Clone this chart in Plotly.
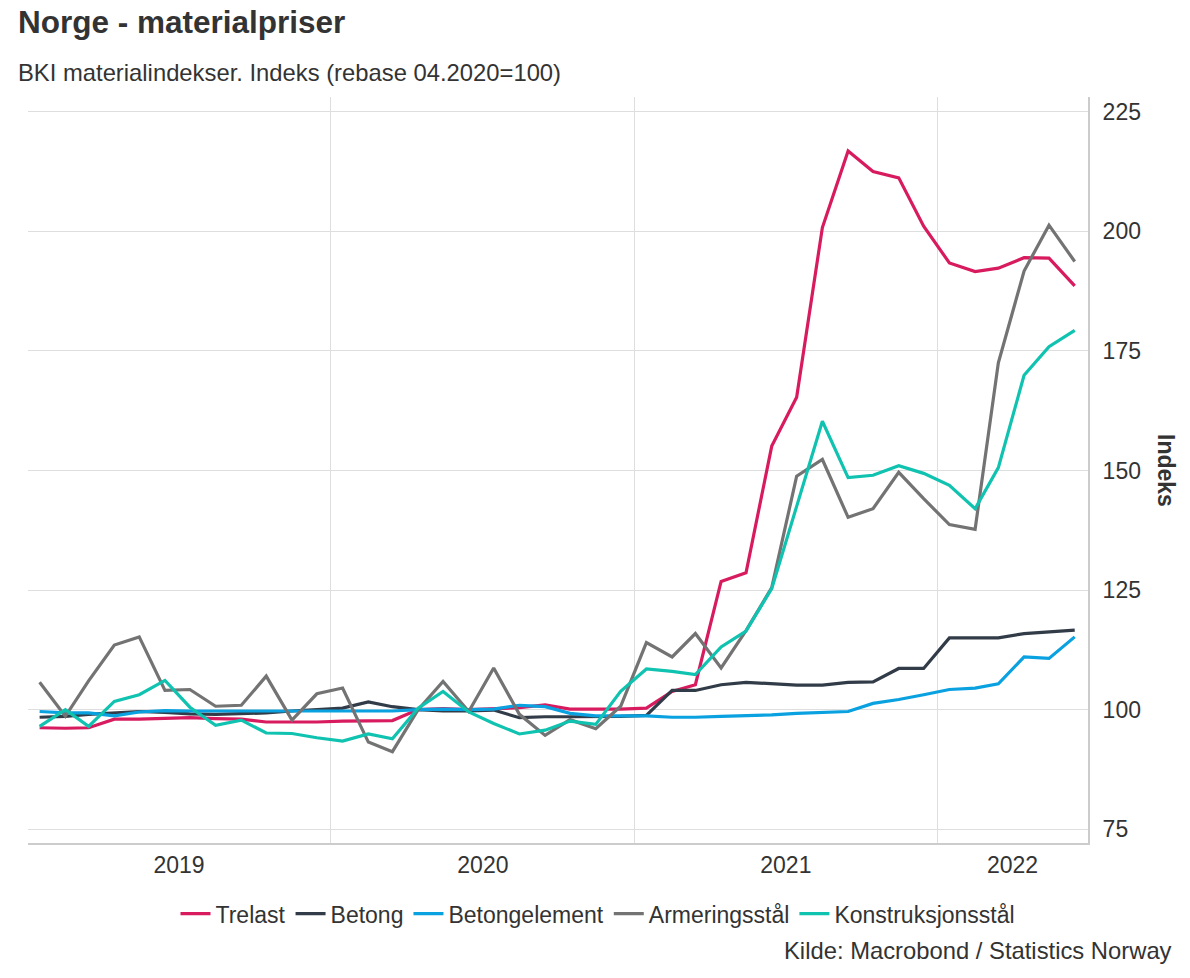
import plotly.graph_objects as go

months = [f"{y}-{m:02d}-15" for y in range(2019, 2023) for m in range(1, 13)][:42]

trelast = [96.2, 96.1, 96.2, 98.0, 98.0, 98.2, 98.3, 98.1, 98.0, 97.4, 97.4, 97.4,
           97.6, 97.7, 97.7, 100.0, 100.2, 100.0, 100.2, 100.4, 101.0, 100.1, 100.1, 100.1,
           100.3, 103.8, 105.2, 126.8, 128.6, 155.1, 165.3, 200.8, 216.8, 212.5, 211.2, 201.1,
           193.4, 191.6, 192.3, 194.5, 194.4, 188.6]
betong = [98.4, 98.6, 99.0, 99.3, 99.6, 99.4, 99.1, 99.0, 99.1, 99.3, 99.7, 100.0,
          100.3, 101.6, 100.6, 100.0, 99.7, 99.7, 99.9, 98.3, 98.5, 98.5, 98.5, 98.6,
          98.8, 104.0, 104.0, 105.2, 105.7, 105.4, 105.1, 105.1, 105.7, 105.8, 108.6, 108.6,
          115.0, 115.0, 115.0, 115.9, 116.3, 116.6]
betongelement = [99.6, 99.3, 99.3, 98.7, 99.5, 99.8, 99.7, 99.7, 99.7, 99.7, 99.7, 99.7,
                 99.6, 99.7, 99.7, 100.0, 100.1, 100.0, 100.1, 100.9, 100.6, 99.2, 98.7, 98.7,
                 98.7, 98.4, 98.4, 98.6, 98.7, 98.9, 99.2, 99.4, 99.6, 101.3, 102.1, 103.1,
                 104.2, 104.5, 105.4, 111.0, 110.7, 115.2]
armering = [105.7, 98.6, 106.0, 113.5, 115.2, 104.0, 104.2, 100.7, 100.9, 107.0, 97.8, 103.3,
            104.5, 93.2, 91.2, 100.0, 105.9, 99.6, 108.7, 99.0, 94.6, 97.9, 96.0, 100.7,
            114.0, 111.0, 115.9, 108.7, 116.5, 125.5, 148.8, 152.3, 140.2, 142.0, 149.6, 144.1,
            138.7, 137.7, 172.5, 191.7, 201.3, 193.7]
konstruksjon = [96.5, 100.0, 96.5, 101.7, 103.1, 106.1, 100.5, 96.7, 97.8, 95.1, 95.0, 94.1,
                93.4, 94.9, 93.9, 100.3, 103.8, 99.5, 97.1, 94.9, 95.7, 97.6, 96.9, 103.8,
                108.5, 108.0, 107.3, 113.1, 116.4, 125.3, 142.5, 160.3, 148.5, 149.0, 151.0, 149.4,
                146.9, 142.0, 150.6, 169.9, 175.9, 179.3]

series = [
    ("Trelast", trelast, "#d81b5e"),
    ("Betong", betong, "#323c48"),
    ("Betongelement", betongelement, "#0aa1e0"),
    ("Armeringsstål", armering, "#737373"),
    ("Konstruksjonsstål", konstruksjon, "#10c2b0"),
]

year_starts = ["2019-01-01", "2020-01-01", "2021-01-01", "2022-01-01"]
year_label_pos = ["2019-07-02", "2020-07-02", "2021-07-02", "2022-04-01"]
year_labels = ["2019", "2020", "2021", "2022"]
y_ticks = [75, 100, 125, 150, 175, 200, 225]

fig = go.Figure()
for name, vals, color in series:
    fig.add_trace(go.Scatter(x=months, y=vals, name=name, mode="lines",
                             line=dict(color=color, width=3.2)))

font_fam = "Liberation Sans, Arial, sans-serif"
txt = "#333333"
fig.update_layout(
    width=1190, height=978,
    margin=dict(l=28, r=102, t=97, b=135),
    paper_bgcolor="white", plot_bgcolor="white",
    font=dict(family=font_fam, size=23, color=txt),
    showlegend=True,
    legend=dict(orientation="h", x=(598 - 28) / 1060, xref="paper", xanchor="center",
                y=-0.066, yanchor="top", font=dict(size=23, color=txt),
                itemwidth=30, tracegroupgap=0),
    xaxis=dict(type="date", range=["2019-01-01", "2022-07-01"],
               tickvals=year_label_pos, ticktext=year_labels,
               showgrid=False, ticks="", ticklen=0,
               showline=True, linecolor="#cccccc", linewidth=2,
               tickfont=dict(size=23, color=txt),
               minor=dict(tickvals=year_starts, showgrid=True,
                          gridcolor="#dedede", gridwidth=1, ticks="")),
    yaxis=dict(side="right", range=[72.1, 228.1], tickvals=y_ticks,
               showgrid=True, gridcolor="#dedede", gridwidth=1,
               zeroline=False, showline=True, linecolor="#cccccc", linewidth=2,
               ticks="", ticklabelstandoff=8, tickfont=dict(size=23, color=txt)),
)

fig.add_annotation(text="<b>Norge - materialpriser</b>", xref="paper", yref="paper",
                   x=-12/1060, y=1 + 75/746, xanchor="left", yanchor="middle",
                   showarrow=False, font=dict(size=31.5, color=txt))
fig.add_annotation(text="BKI materialindekser. Indeks (rebase 04.2020=100)", xref="paper", yref="paper",
                   x=-12/1060, y=1 + 24/746, xanchor="left", yanchor="middle",
                   showarrow=False, font=dict(size=23.8, color=txt))
fig.add_annotation(text="<b>Indeks</b>", xref="paper", yref="paper",
                   x=1 + 78/1060, y=0.5, xanchor="center", yanchor="middle",
                   textangle=90, showarrow=False, font=dict(size=23, color=txt))
fig.add_annotation(text="Kilde: Macrobond / Statistics Norway", xref="paper", yref="paper",
                   x=1 + 86/1060, y=-107/746, xanchor="right", yanchor="middle",
                   showarrow=False, font=dict(size=23.8, color=txt))

fig.write_html("out.html")
